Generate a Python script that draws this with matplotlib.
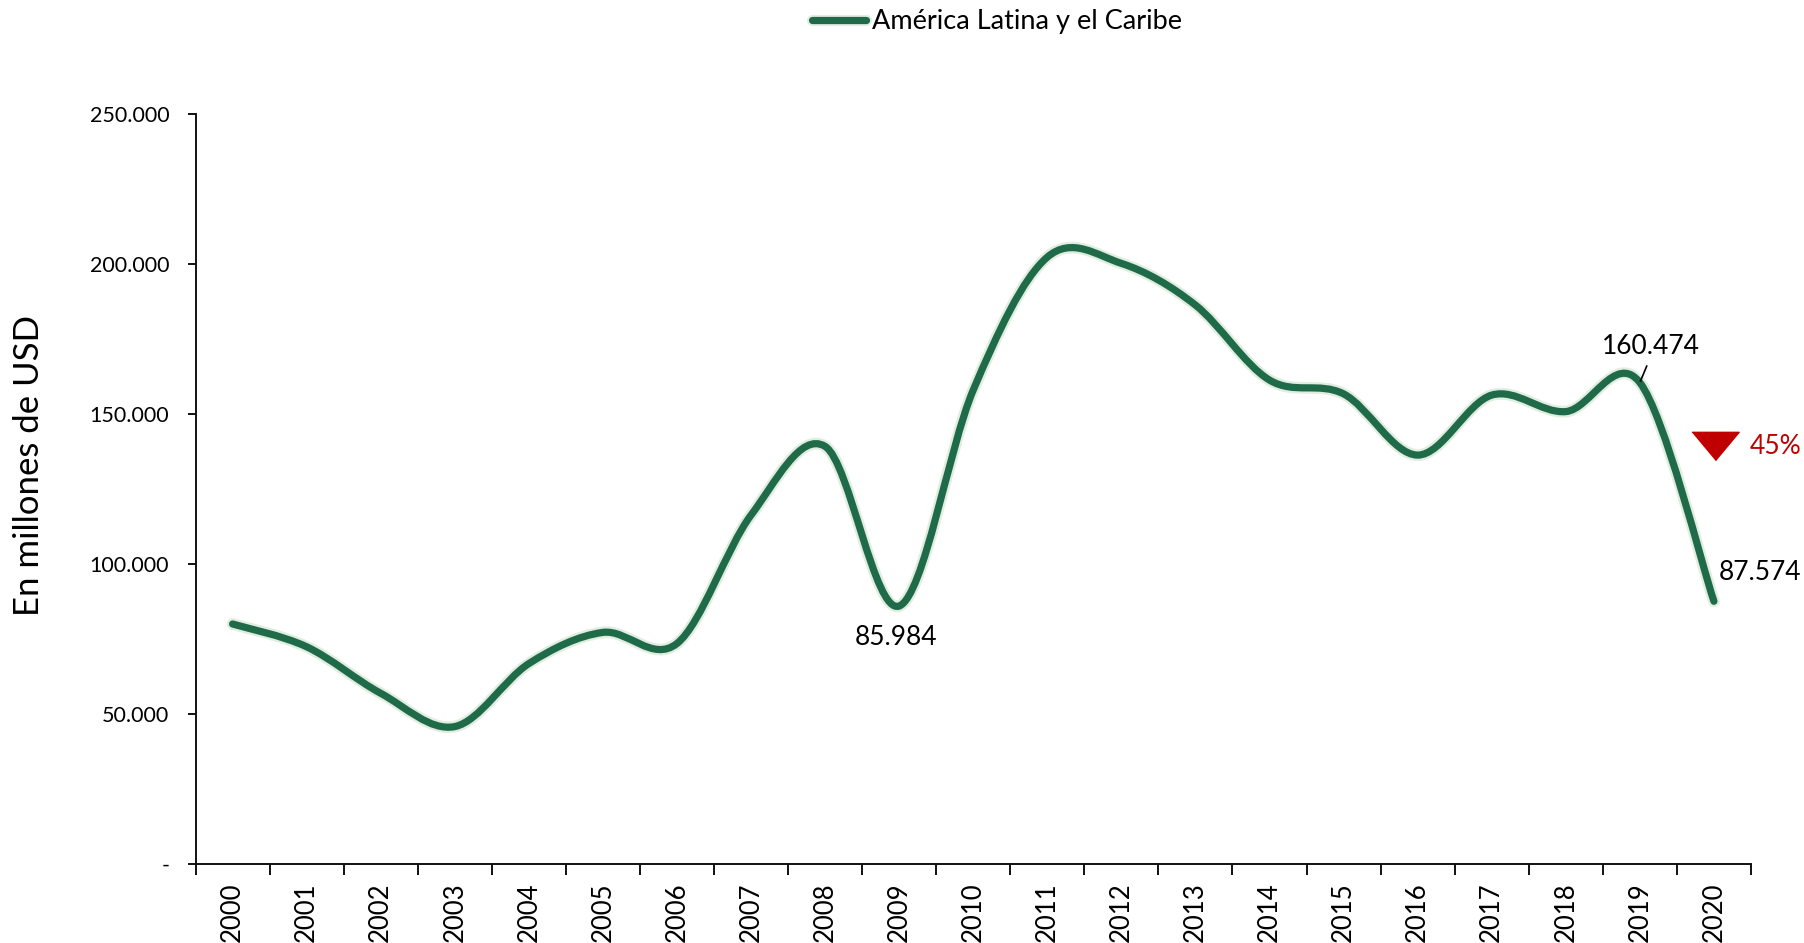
import matplotlib
matplotlib.use("Agg")
import matplotlib.pyplot as plt
from matplotlib.path import Path
from matplotlib.patches import PathPatch
from matplotlib.lines import Line2D
import matplotlib.patheffects as pe
from matplotlib.ticker import FixedLocator, FuncFormatter

plt.rcParams['font.family'] = ['Lato', 'DejaVu Sans']

# ---- data ----
years = [str(y) for y in range(2000, 2021)]
values = [80000, 72400, 56900, 45800, 66800, 77200, 73500, 116300, 139200, 85984,
          158000, 202300, 200200, 186300, 161300, 156700, 136300, 156300, 150800,
          160474, 87574]
series_name = "América Latina y el Caribe"
labelled = {9: "85.984", 19: "160.474", 20: "87.574"}
change_label = "45%"
y_ticks = [0, 50000, 100000, 150000, 200000, 250000]

LINE = '#1f6a48'
GLOW = '#d3e6d3'
RED = '#c00000'

fig = plt.figure(figsize=(18.04, 9.43), dpi=100)
ax = fig.add_axes([0.1084, 0.0838, 0.8622, 0.7953])

# smoothed line (Excel-like Bezier through the data points)
xs = list(range(len(values)))
n = len(values)
verts = [(xs[0], values[0])]
codes = [Path.MOVETO]
for i in range(n - 1):
    x0, y0 = (xs[i - 1], values[i - 1]) if i > 0 else (xs[i], values[i])
    x1, y1 = xs[i], values[i]
    x2, y2 = xs[i + 1], values[i + 1]
    x3, y3 = (xs[i + 2], values[i + 2]) if i + 2 < n else (xs[i + 1], values[i + 1])
    c1 = (x1 + (x2 - x0) / 6.0, y1 + (y2 - y0) / 6.0)
    c2 = (x2 - (x3 - x1) / 6.0, y2 - (y3 - y1) / 6.0)
    verts += [c1, c2, (x2, y2)]
    codes += [Path.CURVE4] * 3
patch = PathPatch(Path(verts, codes), fill=False, edgecolor=LINE, linewidth=5.2,
                  capstyle='round', joinstyle='round', zorder=3)
patch.set_path_effects([pe.Stroke(linewidth=8.5, foreground=GLOW, alpha=0.7),
                        pe.Normal()])
ax.add_patch(patch)

ax.set_xlim(-0.5, n - 0.5)
ax.set_ylim(0, 250000)

# axes styling
for s in ['top', 'right']:
    ax.spines[s].set_visible(False)
for s in ['left', 'bottom']:
    ax.spines[s].set_linewidth(1.4)
    ax.spines[s].set_color('#111111')

ax.yaxis.set_major_locator(FixedLocator(y_ticks))
ax.yaxis.set_major_formatter(FuncFormatter(
    lambda v, p: '-' if v == 0 else f"{int(v):,}".replace(',', '.')))
ax.tick_params(axis='y', direction='out', length=6, width=1.4, color='#111111',
               labelsize=15.5, pad=13)

ax.set_xticks(xs)
ax.set_xticklabels(years, rotation=90, fontsize=18.5)
ax.set_xticks([i - 0.5 for i in range(n + 1)], minor=True)
ax.tick_params(axis='x', which='major', length=0, pad=13)
ax.tick_params(axis='x', which='minor', direction='out', length=8, width=1.4,
               color='#111111')

ax.set_ylabel("En millones de USD", fontsize=25)
ax.yaxis.set_label_coords(-0.097, 0.531)

# data labels
ax.annotate(labelled[9], xy=(9, values[9]), xytext=(-2, -22.5), textcoords='offset points',
            ha='center', va='center', fontsize=19)
ax.annotate(labelled[20], xy=(20, values[20]), xytext=(33, 21), textcoords='offset points',
            ha='center', va='center', fontsize=19)
ax.annotate(labelled[19], xy=(19, values[19]), xytext=(8, 26), textcoords='offset points',
            ha='center', va='center', fontsize=19)
ax.annotate('', xy=(19, values[19]), xytext=(5, 12), textcoords='offset points',
            arrowprops=dict(arrowstyle='-', color='black', lw=1.2,
                            shrinkA=0, shrinkB=1))

# change marker
ax.plot([0.977], [0.557], transform=ax.transAxes, linestyle='none',
        marker=[(-1, 0.6), (1, 0.6), (0, -0.6)], markersize=34,
        color=RED, clip_on=False, zorder=4)
ax.annotate(change_label, xy=(0.977, 0.557), xycoords='axes fraction',
            xytext=(25, 0), textcoords='offset points', ha='left', va='center',
            fontsize=19, color=RED, annotation_clip=False)

# legend
handle = Line2D([], [], color=LINE, linewidth=5.2, solid_capstyle='round',
                path_effects=[pe.Stroke(linewidth=8, foreground=GLOW, alpha=0.7), pe.Normal()])
fig.legend([handle], [series_name], loc='center', bbox_to_anchor=(0.5525, 0.977),
           frameon=False, fontsize=19.5, handlelength=2.0, handletextpad=0.2)

fig.savefig("out.png", dpi=100)
